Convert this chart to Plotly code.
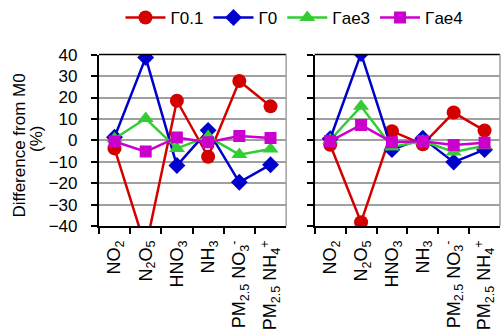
import plotly.graph_objects as go

categories = ["NO<sub>2</sub>", "N<sub>2</sub>O<sub>5</sub>", "HNO<sub>3</sub>", "NH<sub>3</sub>",
              "PM<sub>2.5</sub> NO<sub>3</sub><sup>-</sup>", "PM<sub>2.5</sub> NH<sub>4</sub><sup>+</sup>"]
series_names = ["Γ0.1", "Γ0", "Γae3", "Γae4"]

left_g01 = [-3.7, -50, 18.5, -7.6, 27.7, 15.9]
left_g0 = [1.5, 38.6, -11.7, 4.7, -19.5, -11.3]
left_gae3 = [0.8, 10.2, -3.7, 1.8, -6.6, -4.0]
left_gae4 = [-0.5, -5.2, 1.4, -0.8, 2.1, 1.1]

right_g01 = [-2.0, -38.1, 4.3, -1.8, 13.0, 4.6]
right_g0 = [0.8, 40.5, -4.3, 1.0, -10.1, -4.3]
right_gae3 = [0.2, 15.9, -3.0, -0.3, -5.4, -2.5]
right_gae4 = [-0.3, 7.2, -0.8, -0.4, -2.1, -1.1]

colors = ["#d40000", "#0000cc", "#33cc33", "#cc00cc"]
symbols = ["circle", "diamond", "triangle-up", "square"]
sizes = [14, 13, 14, 12]

fig = go.Figure()
left = [left_g01, left_g0, left_gae3, left_gae4]
right = [right_g01, right_g0, right_gae3, right_gae4]
for i, name in enumerate(series_names):
    fig.add_trace(go.Scatter(x=categories, y=left[i], name=name, mode="lines+markers",
                             line=dict(color=colors[i], width=2.5),
                             marker=dict(symbol=symbols[i], size=sizes[i], color=colors[i]),
                             xaxis="x", yaxis="y", legendgroup=name))
    fig.add_trace(go.Scatter(x=categories, y=right[i], name=name, mode="lines+markers",
                             line=dict(color=colors[i], width=2.5),
                             marker=dict(symbol=symbols[i], size=sizes[i], color=colors[i]),
                             xaxis="x2", yaxis="y2", legendgroup=name, showlegend=False))

font = "Liberation Sans, Arial, sans-serif"
xcommon = dict(type="category", showgrid=False, showline=True, linecolor="black", linewidth=2,
               ticks="outside", ticklen=6, tickcolor="black", tickwidth=1.5, tickson="boundaries",
               tickangle=-90, tickfont=dict(family=font, size=18, color="black"),
               ticklabelstandoff=5, range=[-0.5, 5.5])
ycommon = dict(range=[-40, 40], dtick=10, showgrid=True, gridcolor="#a0a0a0", gridwidth=1.5,
               showline=True, linecolor="black", linewidth=2, ticks="outside", ticklen=6,
               tickcolor="black", tickwidth=1.5, zeroline=False,
               tickfont=dict(family=font, size=17, color="black"))

y_dom = [0.311, 0.863]
fig.update_layout(
    width=502, height=333, margin=dict(l=0, r=0, t=0, b=0),
    plot_bgcolor="white", paper_bgcolor="white",
    xaxis=dict(domain=[0.197, 0.570], anchor="y", **xcommon),
    yaxis=dict(domain=y_dom, anchor="x", ticklabelstandoff=10, **ycommon),
    xaxis2=dict(domain=[0.627, 0.996], anchor="y2", **xcommon),
    yaxis2=dict(domain=y_dom, anchor="x2", showticklabels=False, **ycommon),
    legend=dict(orientation="h", x=0.24, y=1.04, xanchor="left", yanchor="top",
                font=dict(family=font, size=17, color="black"), itemwidth=40,
                tracegroupgap=0, bgcolor="rgba(0,0,0,0)"),
    showlegend=True,
)

# top and right borders of each panel
for xd in ([0.197, 0.570], [0.627, 0.996]):
    fig.add_shape(type="line", xref="paper", yref="paper", x0=xd[0], x1=xd[1], y0=y_dom[1], y1=y_dom[1],
                  line=dict(color="black", width=1.5))
    fig.add_shape(type="line", xref="paper", yref="paper", x0=xd[1], x1=xd[1], y0=y_dom[0], y1=y_dom[1],
                  line=dict(color="#a0a0a0", width=1.5))

fig.add_annotation(text="Difference from M0", xref="paper", yref="paper",
                   x=20 / 502, y=1 - 143 / 333, xanchor="center", yanchor="middle", showarrow=False,
                   textangle=-90, font=dict(family=font, size=17, color="black"))
fig.add_annotation(text="(%)", xref="paper", yref="paper",
                   x=36 / 502, y=1 - 136 / 333, xanchor="center", yanchor="middle", showarrow=False,
                   textangle=-90, font=dict(family=font, size=17, color="black"))

fig.write_html("out.html")
